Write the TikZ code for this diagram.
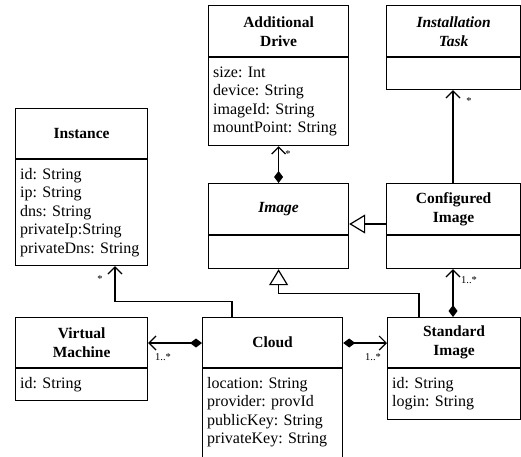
\documentclass[tikz,border=0pt]{standalone}
\usepackage{fontspec}
\setmainfont{Liberation Serif}
\usetikzlibrary{arrows.meta,calc}

\newcommand\attrlist[1]{\parbox[t]{130pt}{\raggedright #1}}

\tikzset{
  box/.style 2 args={draw, line width=1.2pt, inner sep=0pt, anchor=north west,
    minimum width=#1pt, minimum height=#2pt, fill=white},
  divider/.style={line width=1.2pt},
  head/.style={font=\fontsize{15.5}{19}\selectfont\bfseries, align=center, inner sep=0pt},
  attr/.style={font=\fontsize{16}{18.5}\selectfont, anchor=base west, inner sep=0pt},
  mult/.style={font=\fontsize{10.5}{12}\selectfont, inner sep=0pt},
  link/.style={line width=1.2pt},
  comp/.style={link, {Diamond[length=12pt,width=9pt]}-{Straight Barb[length=7pt,width=14pt]}},
  assoc/.style={link, -{Straight Barb[length=7pt,width=14pt]}},
  gen/.style={link, -{Triangle[open,length=16pt,width=19pt,fill=white]}},
}

\begin{document}
\begin{tikzpicture}[x=1pt, y=-1pt]
\useasboundingbox (0,0) rectangle (521,456);

% class boxes
\node[box={140}{140}] (drive) at (208,5) {};
\node[box={134}{84}]  (task)  at (386,5) {};
\node[box={132}{157}] (inst)  at (15,108) {};
\node[box={140}{85}]  (img)   at (208,183) {};
\node[box={134}{85}]  (conf)  at (386,183) {};
\node[box={132}{83}]  (vm)    at (15,317) {};
\node[box={140}{160}] (cloud) at (202,317) {};
\node[box={133}{102}] (std)   at (387,317) {};

% compartment dividers
\draw[divider] ($(drive.north west)+(0,52)$) -- ($(drive.north east)+(0,52)$);
\draw[divider] ($(task.north west)+(0,52)$)  -- ($(task.north east)+(0,52)$);
\draw[divider] ($(inst.north west)+(0,51)$)  -- ($(inst.north east)+(0,51)$);
\draw[divider] ($(img.north west)+(0,52)$)   -- ($(img.north east)+(0,52)$);
\draw[divider] ($(conf.north west)+(0,52)$)  -- ($(conf.north east)+(0,52)$);
\draw[divider] ($(vm.north west)+(0,51)$)    -- ($(vm.north east)+(0,51)$);
\draw[divider] ($(cloud.north west)+(0,51)$) -- ($(cloud.north east)+(0,51)$);
\draw[divider] ($(std.north west)+(0,51)$)   -- ($(std.north east)+(0,51)$);

% class names
\node[head] (driveh) at ($(drive.north)+(0,26.5)$) {Additional\\Drive};
\node[head] (taskh)  at ($(task.north)+(0,26.5)$)  {\itshape Installation\\\itshape Task};
\node[head] (insth)  at ($(inst.north)+(0,25.5)$)  {Instance};
\node[head] (imgh)   at ($(img.north)+(0,26)$)     {\itshape Image};
\node[head] (confh)  at ($(conf.north)+(0,26.5)$)  {Configured\\Image};
\node[head] (vmh)    at ($(vm.north)+(0,25.5)$)    {Virtual\\Machine};
\node[head] (cloudh) at ($(cloud.north)+(0,25.5)$) {Cloud};
\node[head] (stdh)   at ($(std.north)+(0,25.5)$)   {Standard\\Image};

% attributes
\node[attr] (drivea) at ($(drive.north west)+(5,72)$)
  {\attrlist{size: Int\\device: String\\imageId: String\\mountPoint: String}};
\node[attr] (insta) at ($(inst.north west)+(5,71)$)
  {\attrlist{id: String\\ip: String\\dns: String\\privateIp:String\\privateDns: String}};
\node[attr] (vma) at ($(vm.north west)+(5,71)$)
  {\attrlist{id: String}};
\node[attr] (clouda) at ($(cloud.north west)+(5,71)$)
  {\attrlist{location: String\\provider: provId\\publicKey: String\\privateKey: String}};
\node[attr] (stda) at ($(std.north west)+(5,71)$)
  {\attrlist{id: String\\login: String}};

% relations
\draw[comp] (img.north) -- (drive.south);
\draw[assoc] ($(conf.north west)+(67,0)$) -- ($(task.south west)+(67,0)$);
\draw[gen] ($(conf.north west)+(0,41)$) -- ($(img.north east)+(0,41)$);
\draw[gen] ($(std.north west)+(32,0)$) |- ($(img.south)+(0,24)$) -- (img.south);
\draw[comp] ($(std.north west)+(66,0)$) -- ($(conf.south west)+(67,0)$);
\draw[comp] ($(cloud.north west)+(0,26)$) -- ($(vm.north east)+(0,26)$);
\draw[comp] ($(cloud.north east)+(0,26)$) -- ($(std.north west)+(0,26)$);
\draw[assoc] ($(cloud.north west)+(30,0)$) |- ($(inst.south west)+(100,35)$) -- ($(inst.south west)+(100,0)$);

% multiplicities
\node[mult] (m1) at (288,154) {*};
\node[mult] (m2) at (469,101) {*};
\node[mult] (m3) at (100,279) {*};
\node[mult] (m4) at (163,357) {1..*};
\node[mult] (m5) at (373,357) {1..*};
\node[mult] (m6) at (469,280) {1..*};
\end{tikzpicture}
\end{document}
